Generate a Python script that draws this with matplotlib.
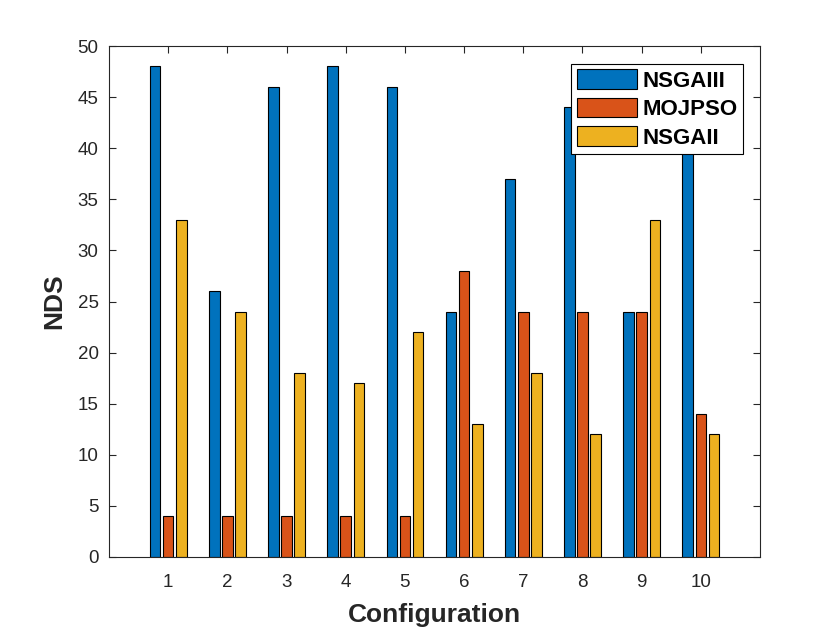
import numpy as np
import matplotlib
matplotlib.use("Agg")
import matplotlib.pyplot as plt

plt.rcParams['font.family'] = ['Liberation Sans', 'DejaVu Sans']

# values
configs = [1, 2, 3, 4, 5, 6, 7, 8, 9, 10]
nsgaiii = [48, 26, 46, 48, 46, 24, 37, 44, 24, 46]
mojpso = [4, 4, 4, 4, 4, 28, 24, 24, 24, 14]
nsgaii = [33, 24, 18, 17, 22, 13, 18, 12, 33, 12]
series_names = ['NSGAIII', 'MOJPSO', 'NSGAII']
colors = ['#0072BD', '#D95319', '#EDB120']

fig = plt.figure(figsize=(8.4, 6.3), dpi=100)
ax = fig.add_axes([0.1298, 0.1159, 0.775, 0.811])

x = np.array(configs)
offset = 0.222
width = 0.178
for i, (vals, name, col) in enumerate(zip([nsgaiii, mojpso, nsgaii], series_names, colors)):
    ax.bar(x + (i - 1) * offset, vals, width=width, color=col, edgecolor='black',
           linewidth=0.8, label=name, zorder=2)

ax.set_xlim(0, 11)
ax.set_ylim(0, 50)
ax.set_xticks(configs)
ax.set_yticks(np.arange(0, 51, 5))
ax.tick_params(direction='in', top=True, right=True, labelsize=13.5, colors='#262626',
               length=5, width=0.8)
ax.tick_params(axis='x', pad=12)
ax.tick_params(axis='y', pad=7.5)
for s in ax.spines.values():
    s.set_color('#262626')
    s.set_linewidth(0.8)

ax.set_xlabel('Configuration', fontsize=19, fontweight='bold', color='#262626', labelpad=9)
ax.set_ylabel('NDS', fontsize=19, fontweight='bold', color='#262626', labelpad=8)

leg = ax.legend(loc='upper right', bbox_to_anchor=(0.974, 0.965),
                prop={'weight': 'bold', 'size': 16}, fancybox=False, framealpha=1,
                edgecolor='black', handlelength=2.7, handleheight=0.95,
                handletextpad=0.25, labelspacing=0.28, borderpad=0.25,
                borderaxespad=0)
leg.get_frame().set_linewidth(0.8)

fig.savefig('out.png', dpi=100)
